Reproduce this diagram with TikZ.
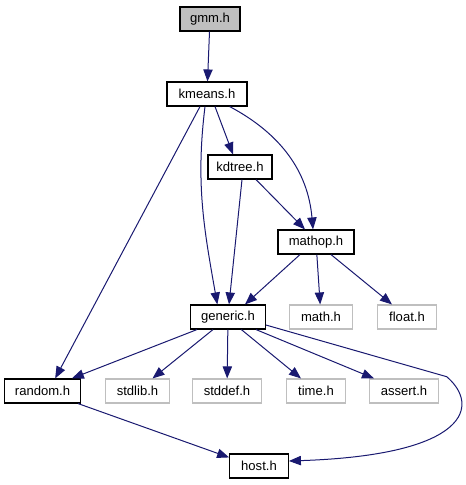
\documentclass[tikz,border=0pt]{standalone}
\usepackage{fontspec}
\setmainfont{Liberation Sans}
\usetikzlibrary{arrows.meta, positioning}
\definecolor{edgeBlue}{HTML}{191970}
\definecolor{rootGray}{HTML}{BFBFBF}
\definecolor{sysGray}{HTML}{BFBFBF}

\begin{document}
\begin{tikzpicture}[
    x=0.75pt, y=-0.75pt,
    hdr/.style={draw=black, fill=white, line width=0.85pt,
                font=\fontsize{9.8}{11}\selectfont, inner sep=0pt,
                minimum height=18pt},
    root/.style={hdr, fill=rootGray},
    sys/.style={hdr, draw=sysGray},
    arrow/.style={-{Triangle[length=9pt, width=7pt]}, draw=edgeBlue,
                  line width=0.75pt},
]
\useasboundingbox (0,0) rectangle (465,485);

% project headers
\node[root, minimum width=45pt] (gmm) at (210,19) {gmm.h};
\node[hdr, minimum width=60pt] (kmeans) at (207,94) {kmeans.h};
\node[hdr, minimum width=48pt] (kdtree) at (240,167) {kdtree.h};
\node[hdr, minimum width=57pt] (mathop) at (316,242) {mathop.h};
\node[hdr, minimum width=56pt] (generic) at (228,317) {generic.h};
\node[hdr, minimum width=57pt] (random) at (42.5,391) {random.h};
\node[hdr, minimum width=44pt] (host) at (259,466) {host.h};

% system headers
\node[sys, minimum width=47pt] (math) at (321,317) {math.h};
\node[sys, minimum width=44pt] (float) at (407,317) {float.h};
\node[sys, minimum width=48pt] (stdlib) at (137.5,391) {stdlib.h};
\node[sys, minimum width=52pt] (stddef) at (227,391) {stddef.h};
\node[sys, minimum width=44pt] (time) at (316,391) {time.h};
\node[sys, minimum width=52pt] (assert) at (404,391) {assert.h};

\coordinate (turn) at (446.7,376.7);

\draw[arrow] (gmm) -- (kmeans);
\draw[arrow] ([xshift=6pt]kmeans.south) -- ([xshift=-5.25pt]kdtree.north);
\draw[arrow] ([xshift=17pt]kmeans.south) to[out=-28, in=95] ([xshift=-2.25pt]mathop.north);
\draw[arrow] ([xshift=-1.5pt]kmeans.south) to[out=-97, in=100] ([xshift=-8pt]generic.north);
\draw[arrow] ([xshift=-5.25pt]kmeans.south) -- ([xshift=9.5pt]random.north);
\draw[arrow] ([xshift=1.5pt]kdtree.south) -- ([xshift=0.75pt]generic.north);
\draw[arrow] ([xshift=12pt]kdtree.south) -- ([xshift=-8.25pt]mathop.north);
\draw[arrow] ([xshift=-12pt]mathop.south) -- ([xshift=12.75pt]generic.north);
\draw[arrow] (mathop) -- (math);
\draw[arrow] ([xshift=11.25pt]mathop.south) -- ([xshift=-11.25pt]float.north);
\draw[arrow] ([xshift=-23.25pt]generic.south) -- ([xshift=22pt]random.north);
\draw[arrow] ([xshift=-11.25pt]generic.south) -- ([xshift=11.25pt]stdlib.north);
\draw[arrow] (generic) -- (stddef);
\draw[arrow] ([xshift=10pt]generic.south) -- ([xshift=-11.25pt]time.north);
\draw[arrow] ([xshift=21pt]generic.south) -- ([xshift=-22.5pt]assert.north);
\draw[arrow] ([yshift=-6pt]generic.east) -- (turn)
    .. controls (480,405) and (470,455) .. ([yshift=3.75pt]host.east);
\draw[arrow] ([xshift=-2.25pt]random.south east) -- ([yshift=-3pt]host.north west);
\end{tikzpicture}
\end{document}
